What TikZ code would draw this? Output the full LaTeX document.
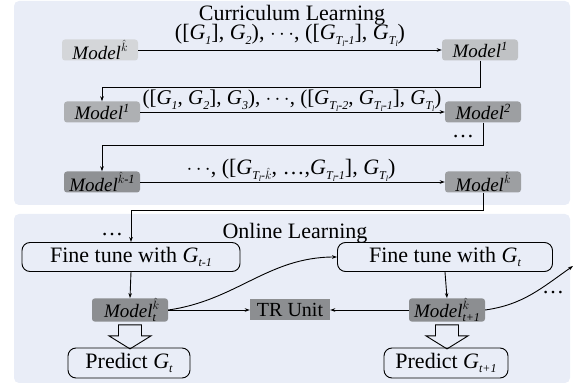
\documentclass[tikz,border=0pt]{standalone}
\usepackage{fontspec}
\setmainfont{Liberation Serif}
\usetikzlibrary{arrows.meta}
\definecolor{panelbg}{RGB}{233,237,247}
\definecolor{gA}{RGB}{212,214,217}
\definecolor{gB}{RGB}{192,194,197}
\definecolor{gC}{RGB}{174,176,179}
\definecolor{gD}{RGB}{157,159,162}
\definecolor{gE}{RGB}{143,145,148}
\definecolor{gF}{RGB}{140,142,145}
\newcommand{\sbs}[1]{\raisebox{-0.22em}{\fontsize{12}{12}\selectfont\itshape #1}}
\newcommand{\ssb}[1]{\raisebox{-0.12em}{\fontsize{8}{8}\selectfont\itshape #1}}
\newcommand{\sps}[1]{\raisebox{0.40em}{\fontsize{12.5}{12.5}\selectfont\itshape #1}}
\newcommand{\Gs}[1]{\textit{G}\sbs{#1}}
\newcommand{\GT}[1]{\textit{G}\sbs{T\ssb{l}#1}}
\newcommand{\kh}{\ensuremath{\hat{k}}}
\begin{document}
\begin{tikzpicture}[x=1pt,y=-1pt,
  panel/.style={fill=panelbg, draw=none, rounded corners=5pt},
  mbox/.style={rounded corners=3pt, minimum width=76pt, minimum height=21pt, inner sep=0pt,
    font=\fontsize{19}{19}\selectfont\itshape},
  conn/.style={-{Stealth[length=5pt,width=3.5pt]}, line width=0.9pt},
  ftbox/.style={draw, rounded corners=8pt, line width=0.9pt, minimum height=29pt, inner sep=0pt,
    font=\fontsize{22}{22}\selectfont},
  lbl/.style={font=\fontsize{22}{22}\selectfont, inner sep=0pt, anchor=base},
  hollow/.style={draw, line width=0.9pt}]
\useasboundingbox (0,0) rectangle (574,385);
\fill[panel] (14,1) rectangle (570,205);
\fill[panel] (14,214) rectangle (570,383);

\node[lbl] (t1) at (292,21) {Curriculum Learning};

% row 1
\node[mbox, fill=gA] (m0) at (100,50) {Model\sps{\kh}};
\node[mbox, fill=gB] (m1) at (480,50) {Model\sps{1}};
\node[lbl] (l1) at (290,40) {([\Gs{1}], \Gs{2}), $\cdots$, ([\GT{-1}], \GT{})};
\draw[conn] (m0) -- (m1);

% row 2
\node[mbox, fill=gC] (m2a) at (102,112) {Model\sps{1}};
\node[mbox, fill=gD] (m2b) at (483,112) {Model\sps{2}};
\node[lbl, font=\fontsize{21}{21}\selectfont] (l2) at (292,105) {([\Gs{1}, \Gs{2}], \Gs{3}), $\cdots$, ([\GT{-2}, \GT{-1}], \GT{})};
\draw[conn] (m2a) -- (m2b);
\draw[conn] (m1.south) -- (m1.south |- 0,87) -| (m2a.north);
\node[lbl] (d1) at (463,138) {\ldots};

% row 3
\node[mbox, fill=gE] (m3a) at (102,182) {Model\sps{\kh-1}};
\node[mbox, fill=gD] (m3b) at (483,182) {Model\sps{\kh}};
\node[lbl] (l3) at (291,175) {$\cdots$, ([\GT{-\kh},\ \ldots,\GT{-1}], \GT{})};
\draw[conn] (m3a) -- (m3b);
\draw[conn] (m2b.south) -- (m2b.south |- 0,145) -| (m3a.north);

% online
\node[lbl] (t2) at (295,239) {Online Learning};
\node[ftbox, minimum width=218pt] (ft1) at (131,257) {Fine tune with \Gs{t-1}};
\node[ftbox, minimum width=215pt] (ft2) at (445,257) {Fine tune with \Gs{t}};
\draw[conn] (m3b.south) -- (m3b.south |- 0,210) -| (ft1.north);
\node[lbl] (d2) at (112,236) {\ldots};

\node[mbox, fill=gF] (mt) at (130,310) {Model\rlap{\sps{\kh}}\sbs{t}};
\node[mbox, fill=gF, rounded corners=0pt, minimum width=80pt, font=\fontsize{20}{20}\selectfont] (tr) at (290,310) {TR Unit};
\node[mbox, fill=gF] (mt1) at (447,310) {Model\rlap{\sps{\kh}}\sbs{t+1}};

\draw[conn] (ft1.south) -- (mt.north);
\draw[conn] (ft2.south) -- (mt1.north);
\draw[conn] (mt.east) -- (tr.west);
\draw[conn] (mt1.west) -- (tr.east);
\draw[conn] (mt.east) to[out=8,in=180] (ft2.west);
\coordinate (cont) at (573,266);
\draw[conn] (mt1.east) to[out=8,in=215] (cont);
\node[lbl] (d3) at (553,294) {\ldots};

\node[ftbox, minimum width=122pt, minimum height=30pt] (p1) at (129,363) {Predict \Gs{t}};
\node[ftbox, minimum width=124pt, minimum height=30pt] (p2) at (446,363) {Predict \Gs{t+1}};

\draw[hollow, shift={(mt.south)}] (-11.5,3) -- (11.5,3) -- (11.5,14) -- (21,14) -- (0,27) -- (-21,14) -- (-11.5,14) -- cycle;
\draw[hollow, shift={(mt1.south)}] (-11.5,3) -- (11.5,3) -- (11.5,14) -- (21,14) -- (0,27) -- (-21,14) -- (-11.5,14) -- cycle;
\end{tikzpicture}
\end{document}
